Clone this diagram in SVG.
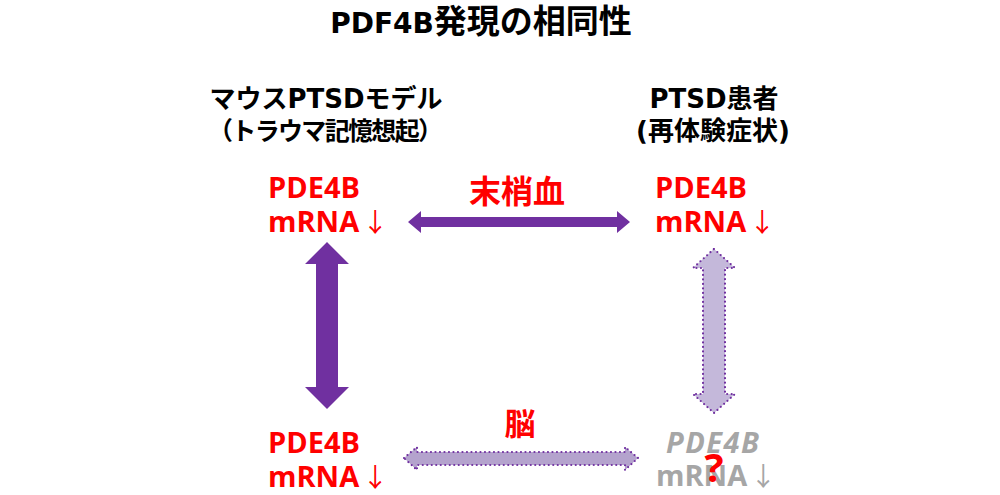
<svg xmlns="http://www.w3.org/2000/svg" width="1000" height="495" viewBox="0 0 1000 495">
<style>
text{font-family:"DejaVu Sans","Noto Sans CJK JP",sans-serif;font-weight:bold}
.lbl{font-family:"Open Sans","Noto Sans CJK JP",sans-serif;font-size:29px}
.arr{font-family:"Noto Sans CJK JP",sans-serif;font-weight:normal;font-size:26px}
.t{fill:#000}
.r{fill:#ff0000}
.g{fill:#a6a6a6}
.solid{fill:#7030a0}
.dot{fill:#c4b8da;stroke:#7030a0;stroke-width:2.2;stroke-dasharray:0 4.5;stroke-linecap:round;stroke-linejoin:round}
.dot2{fill:#b4a3cd;stroke:#7030a0;stroke-width:2.2;stroke-dasharray:0 4.5;stroke-linecap:round;stroke-linejoin:round}
</style>
<rect width="1000" height="495" fill="#fff"/>
<text class="t" x="481" y="33" font-size="33" text-anchor="middle"><tspan font-size="28">PDF4B</tspan>発現の相同性</text>
<g id="mouse-header">
<text class="t" x="326" y="108" font-size="26" text-anchor="middle">マウスPTSDモデル</text>
<text class="t" x="208" y="140" font-size="25" textLength="235" lengthAdjust="spacing">（トラウマ記憶想起）</text>
</g>
<g id="patient-header">
<text class="t" x="714" y="108" font-size="26" text-anchor="middle">PTSD患者</text>
<text class="t" x="713" y="140" font-size="26" text-anchor="middle">(再体験症状)</text>
</g>
<g id="mouse-blood">
<text class="r lbl" x="268" y="198">PDE4B</text>
<text class="r lbl" x="268" y="232">mRNA<tspan class="arr" dx="3">↓</tspan></text>
</g>
<g id="patient-blood">
<text class="r lbl" x="655" y="198">PDE4B</text>
<text class="r lbl" x="655" y="232">mRNA<tspan class="arr" dx="3">↓</tspan></text>
</g>
<g id="mouse-brain">
<text class="r lbl" x="268" y="453">PDE4B</text>
<text class="r lbl" x="268" y="487">mRNA<tspan class="arr" dx="3">↓</tspan></text>
</g>
<g id="patient-brain">
<text class="g lbl" x="666" y="453" font-style="italic" letter-spacing="1.5">PDE4B</text>
<text class="g lbl" x="656" y="486">mRNA<tspan class="arr" dx="3">↓</tspan></text>
<text class="r" x="714" y="482" font-size="40" text-anchor="middle" style="font-family:'Open Sans',sans-serif">?</text>
</g>
<g id="connectors">
<path class="solid" d="M408,222 L421,211 L421,217 L617,217 L617,211 L630,222 L617,233 L617,227 L421,227 L421,233 Z"/>
<text class="r" x="517" y="203" font-size="32" text-anchor="middle">末梢血</text>
<path class="solid" d="M327,242 L349,264 L338,264 L338,387 L349,387 L327,409 L305,387 L316,387 L316,264 L305,264 Z"/>
<path class="dot" d="M714,249 L735,268 L725,268 L725,394 L735,394 L714,413 L693,394 L703,394 L703,268 L693,268 Z"/>
<path class="dot2" d="M404,458 L417,447 L417,452 L625,452 L625,447 L638,458 L625,470 L625,465 L417,465 L417,470 Z"/>
<text class="r" x="520" y="435" font-size="31" text-anchor="middle">脳</text>
</g>
</svg>
